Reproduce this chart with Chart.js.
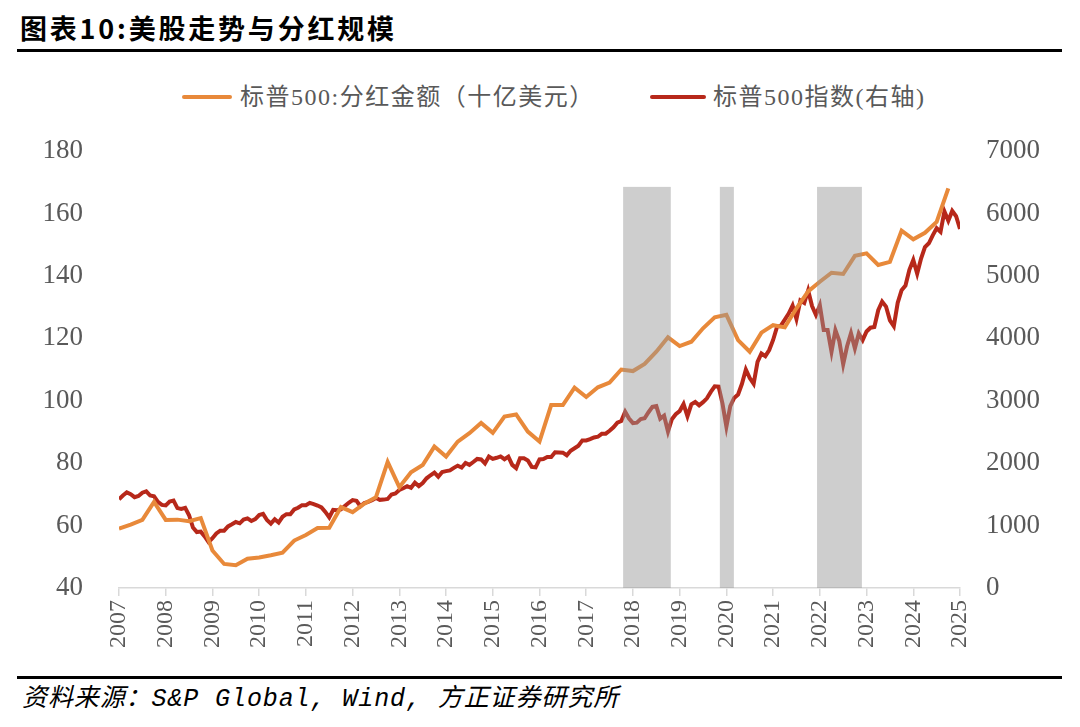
<!DOCTYPE html>
<html>
<head>
<meta charset="utf-8">
<script src="https://cdn.jsdelivr.net/npm/chart.js@4.4.1/dist/chart.umd.min.js"></script>
<style>
  body { margin: 0; background: #fff; width: 1080px; height: 727px; position: relative; overflow: hidden; }
  .abs { position: absolute; white-space: nowrap; }
  #title { left: 20px; top: 9px; font: bold 27px "Noto Sans CJK SC", sans-serif; letter-spacing: 2.8px; color: #000; line-height: 38px; }
  .rule { position: absolute; left: 17px; width: 1045px; height: 3px; background: #000; }
  .leg-line { position: absolute; height: 4px; border-radius: 2px; }
  .leg-text { font-size: 24px; letter-spacing: 1.5px; color: #595959; font-family: "Liberation Serif", "Noto Sans CJK SC", serif; line-height: 30px; }
  #foot { left: 22px; top: 684px; font: italic 25px "Liberation Mono", "Noto Sans CJK SC", monospace; letter-spacing: 0.9px; color: #000; line-height: 32px; }
  #wrap { position: absolute; left: 0; top: 60px; width: 1080px; height: 610px; }
</style>
</head>
<body>
<div id="title" class="abs">图表10:美股走势与分红规模</div>
<div class="rule" style="top:49px"></div>

<div class="leg-line" style="left:182px; width:50px; top:95px; background:#E8893A"></div>
<div class="abs leg-text" style="left:240px; top:82px">标普500:分红金额（十亿美元）</div>
<div class="leg-line" style="left:650px; width:56px; top:95px; background:#B7281A"></div>
<div class="abs leg-text" style="left:713px; top:82px">标普500指数(右轴)</div>

<div id="wrap"><canvas id="chart"></canvas></div>

<div class="rule" style="top:676px"></div>
<div id="foot" class="abs">资料来源：S&amp;P Global, Wind, 方正证券研究所</div>

<script>
// x axis: year ticks (the source puts Mar-2007 on the 2007 tick)
var yearLabels = ['2007','2008','2009','2010','2011','2012','2013','2014','2015','2016',
                  '2017','2018','2019','2020','2021','2022','2023','2024','2025'];
var leftTicks = [40, 60, 80, 100, 120, 140, 160, 180];
var rightTicks = [0, 1000, 2000, 3000, 4000, 5000, 6000, 7000];

// S&P 500 dividends, billion USD, quarterly from 2007Q1
var divValues = [
  59.0, 60.3, 61.8, 67.6,   61.8, 61.9, 61.4, 62.4,
  52.0, 47.7, 47.3, 49.4,   49.8, 50.5, 51.3, 55.2,
  57.0, 59.2, 59.3, 65.9,   64.3, 67.0, 69.1, 80.4,
  72.3, 77.1, 79.4, 85.3,   82.1, 86.9, 89.6, 92.9,
  89.7, 94.9, 95.6, 90.1,   86.9, 98.6, 98.6, 104.2,
  101.2, 104.3, 105.8, 110.0, 109.5, 111.8, 115.7, 120.3,
  117.5, 118.9, 123.2, 126.7, 127.5, 119.4, 115.7, 121.8,
  124.2, 123.5, 129.6, 135.0, 138.1, 141.0, 140.6, 146.4,
  147.2, 143.5, 144.5, 154.5, 151.7, 153.8, 157.3, 168.0
];

// S&P 500 index, monthly from Mar 2007 to Mar 2025
var spxValues = [
  1421, 1482, 1531, 1503, 1455, 1474, 1527, 1549, 1481, 1468,
  1379, 1331, 1323, 1386, 1400, 1280, 1267, 1283, 1166, 969, 896, 903,
  826, 735, 798, 873, 919, 919, 987, 1021, 1057, 1036, 1096, 1115,
  1074, 1104, 1169, 1187, 1089, 1031, 1102, 1049, 1141, 1183, 1181, 1258,
  1286, 1327, 1326, 1364, 1345, 1321, 1292, 1219, 1131, 1253, 1247, 1258,
  1312, 1366, 1408, 1398, 1310, 1362, 1379, 1407, 1441, 1412, 1416, 1426,
  1498, 1515, 1569, 1598, 1631, 1606, 1686, 1633, 1682, 1757, 1806, 1848,
  1783, 1859, 1872, 1884, 1924, 1960, 1931, 2003, 1972, 2018, 2068, 2059,
  1995, 2105, 2068, 2086, 2107, 2063, 2104, 1972, 1920, 2079, 2080, 2044,
  1940, 1932, 2060, 2065, 2097, 2099, 2174, 2171, 2168, 2126, 2199, 2239,
  2279, 2364, 2363, 2384, 2412, 2423, 2470, 2472, 2519, 2575, 2648, 2674,
  2824, 2714, 2641, 2648, 2705, 2718, 2816, 2902, 2914, 2712, 2760, 2507,
  2704, 2784, 2834, 2946, 2752, 2942, 2980, 2926, 2977, 3038, 3141, 3231,
  3226, 2954, 2585, 2912, 3044, 3100, 3271, 3500, 3363, 3270, 3622, 3756,
  3714, 3811, 3973, 4181, 4204, 4298, 4395, 4523, 4308, 4605, 4567, 4766,
  4516, 4374, 4530, 4132, 4132, 3785, 4130, 3955, 3586, 3872, 4080, 3840,
  4077, 3970, 4109, 4169, 4180, 4450, 4589, 4508, 4288, 4194, 4568, 4770,
  4846, 5096, 5254, 5036, 5278, 5460, 5522, 5648, 5762, 5705, 6032, 5882,
  6040, 5955, 5750
];

// grey shaded periods (in axis years) and their top on the left axis
var shadeRanges = [[2017.79, 2018.81], [2019.86, 2020.16], [2021.94, 2022.90]];
var shadeTop = 168.5;

var divPoints = divValues.map(function(v, i) { return { x: 2007 + i / 4, y: v }; });
var spxPoints = spxValues.map(function(v, i) { return { x: 2007 + i / 12, y: v }; });

var shadePlugin = {
  id: 'shade',
  afterDatasetsDraw: function(chart) {
    var ctx = chart.ctx, xs = chart.scales.x, ys = chart.scales.y;
    var top = ys.getPixelForValue(shadeTop), bottom = ys.getPixelForValue(40);
    ctx.save();
    ctx.fillStyle = 'rgba(150,150,150,0.47)';
    shadeRanges.forEach(function(r) {
      var a = xs.getPixelForValue(r[0]), b = xs.getPixelForValue(r[1]);
      ctx.fillRect(a, top, b - a, bottom - top);
    });
    ctx.restore();
  }
};

var tickFont = { family: '"Liberation Serif", serif', size: 27 };

var ctx = document.getElementById('chart').getContext('2d');
var myChart = new Chart(ctx, {
  type: 'line',
  data: {
    datasets: [{
      label: '标普500:分红金额（十亿美元）',
      data: divPoints,
      yAxisID: 'y',
      borderColor: '#E8893A',
      borderWidth: 4,
      pointRadius: 0,
      tension: 0
    }, {
      label: '标普500指数(右轴)',
      data: spxPoints,
      yAxisID: 'y1',
      borderColor: '#B7281A',
      borderWidth: 4,
      pointRadius: 0,
      tension: 0
    }]
  },
  options: {
    responsive: true,
    maintainAspectRatio: false,
    animation: false,
    layout: { padding: { top: 91, left: 0, right: 0, bottom: 0 } },
    plugins: { legend: { display: false }, tooltip: { enabled: false } },
    scales: {
      x: {
        type: 'linear',
        min: 2007,
        max: 2025,
        afterBuildTicks: function(axis) {
          axis.ticks = yearLabels.map(function(l) { return { value: Number(l) }; });
        },
        afterFit: function(axis) { axis.height = 82; },
        grid: { display: true, drawOnChartArea: false, drawTicks: true, tickLength: 8, color: '#d9d9d9', lineWidth: 1.5 },
        border: { display: true, color: '#d9d9d9', width: 1.5 },
        ticks: {
          color: '#595959',
          font: { family: '"Liberation Serif", serif', size: 24 },
          minRotation: 90,
          maxRotation: 90,
          padding: 4,
          callback: function(v) { return String(v); }
        }
      },
      y: {
        position: 'left',
        min: 40,
        max: 180,
        afterBuildTicks: function(axis) {
          axis.ticks = leftTicks.map(function(v) { return { value: v }; });
        },
        afterFit: function(axis) { axis.width = 119; },
        grid: { display: false },
        border: { display: false },
        ticks: { color: '#595959', font: tickFont, padding: 28 }
      },
      y1: {
        position: 'right',
        min: 0,
        max: 7000,
        afterBuildTicks: function(axis) {
          axis.ticks = rightTicks.map(function(v) { return { value: v }; });
        },
        afterFit: function(axis) { axis.width = 120; },
        grid: { display: false },
        border: { display: false },
        ticks: { color: '#595959', font: tickFont, padding: 18, callback: function(v) { return String(v); } }
      }
    }
  },
  plugins: [shadePlugin]
});
</script>
</body>
</html>
